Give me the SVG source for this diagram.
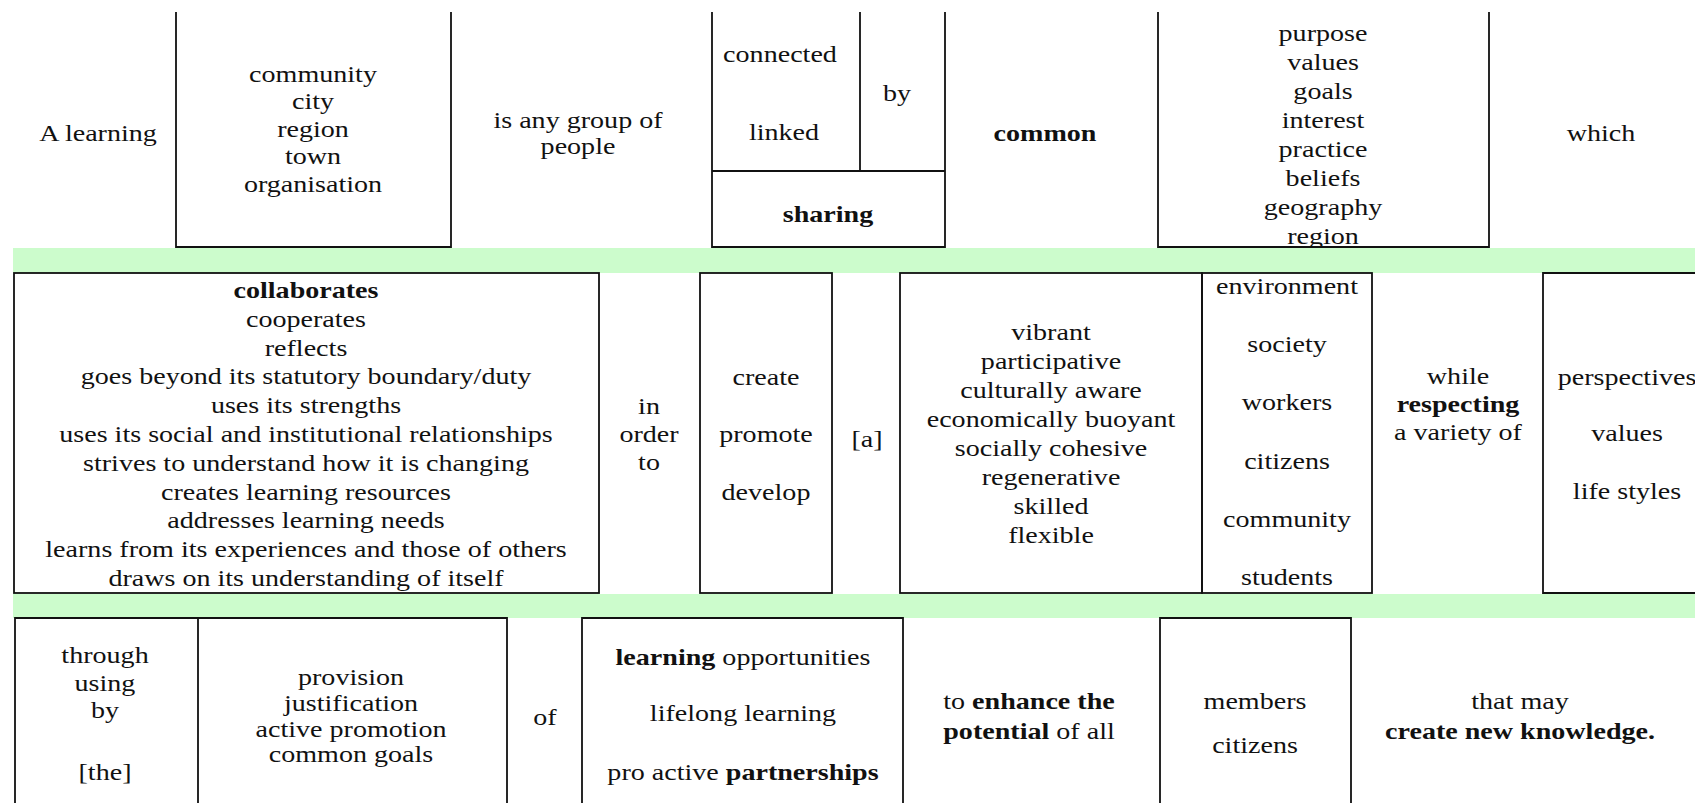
<svg xmlns="http://www.w3.org/2000/svg" width="1695" height="803" viewBox="0 0 1695 803">
<style>
.t{font-family:"Liberation Serif","Times New Roman",serif;font-size:24px;fill:#111;}
.b{font-weight:bold;}
.ln{fill:none;stroke:#111;stroke-width:1.8;}
.band{fill:#ccfccc;}
</style>
<defs>
<clipPath id="clipPurpose"><rect x="1158" y="0" width="331" height="246"/></clipPath>
</defs>
<rect x="0" y="0" width="1695" height="803" fill="#ffffff"/>
<g id="bands">
<rect class="band" x="13" y="248" width="1682" height="25"/>
<rect class="band" x="13" y="594" width="1682" height="24"/>
</g>
<g id="connectors"></g>

<g id="n-a-learning">
<text class="t" text-anchor="middle" transform="translate(98,0) scale(1.17,1)"><tspan x="0" y="141">A learning</tspan></text>
</g>
<g id="n-community">
<path class="ln" d="M176,12 V247 H451 V12"/>
<text class="t" text-anchor="middle" transform="translate(313,0) scale(1.17,1)"><tspan x="0" y="82">community</tspan><tspan x="0" y="109.5">city</tspan><tspan x="0" y="137">region</tspan><tspan x="0" y="164.5">town</tspan><tspan x="0" y="192">organisation</tspan></text>
</g>
<g id="n-group">
<text class="t" text-anchor="middle" transform="translate(578,0) scale(1.17,1)"><tspan x="0" y="128">is any group of</tspan><tspan x="0" y="154">people</tspan></text>
</g>
<g id="n-connected">
<path class="ln" d="M712,12 V247 H945 V12 M860,12 V171 M712,171 H945"/>
<text class="t" text-anchor="middle" transform="translate(780,0) scale(1.17,1)"><tspan x="0" y="62">connected</tspan></text>
<text class="t" text-anchor="middle" transform="translate(784,0) scale(1.17,1)"><tspan x="0" y="140">linked</tspan></text>
<text class="t" text-anchor="middle" transform="translate(897,0) scale(1.17,1)"><tspan x="0" y="101">by</tspan></text>
<text class="t b" text-anchor="middle" transform="translate(828,0) scale(1.17,1)"><tspan x="0" y="222">sharing</tspan></text>
</g>
<g id="n-common">
<text class="t b" text-anchor="middle" transform="translate(1045,0) scale(1.17,1)"><tspan x="0" y="141">common</tspan></text>
</g>
<g id="n-purpose">
<path class="ln" d="M1158,12 V247 H1489 V12"/>
<g clip-path="url(#clipPurpose)">
<text class="t" text-anchor="middle" transform="translate(1323,0) scale(1.17,1)"><tspan x="0" y="41">purpose</tspan><tspan x="0" y="70">values</tspan><tspan x="0" y="99">goals</tspan><tspan x="0" y="128">interest</tspan><tspan x="0" y="157">practice</tspan><tspan x="0" y="186">beliefs</tspan><tspan x="0" y="215">geography</tspan><tspan x="0" y="244">region</tspan></text>
</g>
</g>
<g id="n-which">
<text class="t" text-anchor="middle" transform="translate(1601,0) scale(1.17,1)"><tspan x="0" y="141">which</tspan></text>
</g>

<g id="n-collaborates">
<rect class="ln" x="14" y="273" width="585" height="320"/>
<text class="t" text-anchor="middle" transform="translate(306,0) scale(1.17,1)"><tspan x="0" y="298" class="b">collaborates</tspan><tspan x="0" y="326.8">cooperates</tspan><tspan x="0" y="355.6">reflects</tspan><tspan x="0" y="384.4">goes beyond its statutory boundary/duty</tspan><tspan x="0" y="413.2">uses its strengths</tspan><tspan x="0" y="442">uses its social and institutional relationships</tspan><tspan x="0" y="470.8">strives to understand how it is changing</tspan><tspan x="0" y="499.6">creates learning resources</tspan><tspan x="0" y="528.4">addresses learning needs</tspan><tspan x="0" y="557.2">learns from its experiences and those of others</tspan><tspan x="0" y="586">draws on its understanding of itself</tspan></text>
</g>
<g id="n-in-order-to">
<text class="t" text-anchor="middle" transform="translate(649,0) scale(1.17,1)"><tspan x="0" y="414">in</tspan><tspan x="0" y="442">order</tspan><tspan x="0" y="470">to</tspan></text>
</g>
<g id="n-create">
<rect class="ln" x="700" y="273" width="132" height="320"/>
<text class="t" text-anchor="middle" transform="translate(766,0) scale(1.17,1)"><tspan x="0" y="385">create</tspan><tspan x="0" y="442">promote</tspan><tspan x="0" y="500">develop</tspan></text>
</g>
<g id="n-a">
<text class="t" text-anchor="middle" transform="translate(867,0) scale(1.17,1)"><tspan x="0" y="447">[a]</tspan></text>
</g>
<g id="n-vibrant">
<rect class="ln" x="900" y="273" width="302" height="320"/>
<text class="t" text-anchor="middle" transform="translate(1051,0) scale(1.17,1)"><tspan x="0" y="340">vibrant</tspan><tspan x="0" y="369">participative</tspan><tspan x="0" y="398">culturally aware</tspan><tspan x="0" y="427">economically buoyant</tspan><tspan x="0" y="456">socially cohesive</tspan><tspan x="0" y="485">regenerative</tspan><tspan x="0" y="514">skilled</tspan><tspan x="0" y="543">flexible</tspan></text>
</g>
<g id="n-environment">
<rect class="ln" x="1202" y="273" width="170" height="320"/>
<text class="t" text-anchor="middle" transform="translate(1287,0) scale(1.17,1)"><tspan x="0" y="294">environment</tspan><tspan x="0" y="352">society</tspan><tspan x="0" y="410">workers</tspan><tspan x="0" y="469">citizens</tspan><tspan x="0" y="527">community</tspan><tspan x="0" y="585">students</tspan></text>
</g>
<g id="n-while">
<text class="t" text-anchor="middle" transform="translate(1458,0) scale(1.17,1)"><tspan x="0" y="384">while</tspan><tspan x="0" y="412" class="b">respecting</tspan><tspan x="0" y="440">a variety of</tspan></text>
</g>
<g id="n-perspectives">
<path class="ln" d="M1695,273 H1543 V593 H1695"/>
<text class="t" text-anchor="middle" transform="translate(1627,0) scale(1.17,1)"><tspan x="0" y="385">perspectives</tspan><tspan x="0" y="441">values</tspan><tspan x="0" y="499">life styles</tspan></text>
</g>

<g id="n-through">
<path class="ln" d="M15,803 V618 H198 V803"/>
<text class="t" text-anchor="middle" transform="translate(105,0) scale(1.17,1)"><tspan x="0" y="663">through</tspan><tspan x="0" y="691">using</tspan><tspan x="0" y="718">by</tspan><tspan x="0" y="780">[the]</tspan></text>
</g>
<g id="n-provision">
<path class="ln" d="M198,618 H507 V803"/>
<text class="t" text-anchor="middle" transform="translate(351,0) scale(1.17,1)"><tspan x="0" y="685">provision</tspan><tspan x="0" y="711">justification</tspan><tspan x="0" y="737">active promotion</tspan><tspan x="0" y="762">common goals</tspan></text>
</g>
<g id="n-of">
<text class="t" text-anchor="middle" transform="translate(545,0) scale(1.17,1)"><tspan x="0" y="725">of</tspan></text>
</g>
<g id="n-learning">
<path class="ln" d="M582,803 V618 H903 V803"/>
<text class="t" text-anchor="middle" transform="translate(743,0) scale(1.17,1)"><tspan x="0" y="665"><tspan class="b">learning</tspan> opportunities</tspan><tspan x="0" y="721">lifelong learning</tspan><tspan x="0" y="780">pro active <tspan class="b">partnerships</tspan></tspan></text>
</g>
<g id="n-enhance">
<text class="t" text-anchor="middle" transform="translate(1029,0) scale(1.17,1)"><tspan x="0" y="709">to <tspan class="b">enhance the</tspan></tspan><tspan x="0" y="739"><tspan class="b">potential</tspan> of all</tspan></text>
</g>
<g id="n-members">
<path class="ln" d="M1160,803 V618 H1351 V803"/>
<text class="t" text-anchor="middle" transform="translate(1255,0) scale(1.17,1)"><tspan x="0" y="709">members</tspan><tspan x="0" y="753">citizens</tspan></text>
</g>
<g id="n-knowledge">
<text class="t" text-anchor="middle" transform="translate(1520,0) scale(1.17,1)"><tspan x="0" y="709">that may</tspan><tspan x="0" y="739" class="b">create new knowledge.</tspan></text>
</g>
</svg>
